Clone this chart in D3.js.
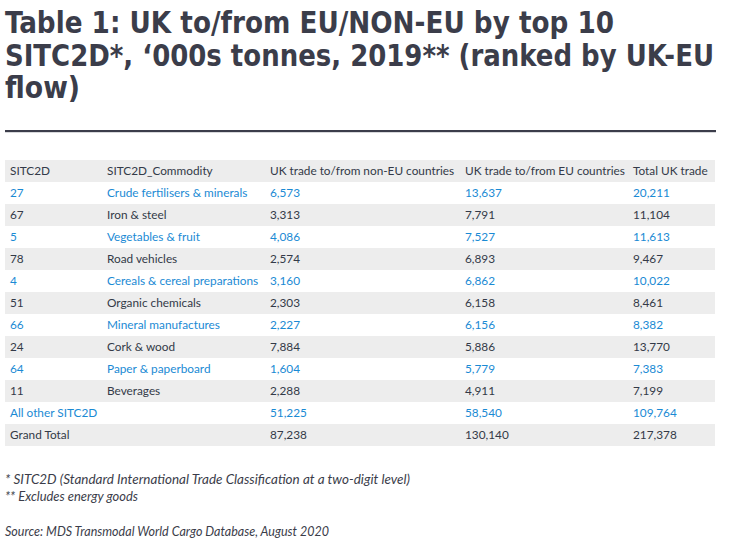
<!DOCTYPE html>
<html>
<head>
<meta charset="utf-8">
<script src="https://cdn.jsdelivr.net/npm/d3@7"></script>
<style>
  body { margin: 0; background: #fff; }
  .cell { font-family: Lato, sans-serif; font-size: 11.8px; }
  .title { font-family: "DejaVu Sans Condensed", sans-serif; font-weight: bold; font-size: 29.5px; fill: #3b3d4a; }
  .note { font-family: Lato, sans-serif; font-style: italic; font-size: 13px; fill: #3b3d4a; }
</style>
</head>
<body>
<div id="chart"></div>
<script>
var width = 729, height = 545;

var titleLines = ["Table 1: UK to/from EU/NON-EU by top 10",
  "SITC2D*, \u2018000s tonnes, 2019** (ranked by UK-EU",
  "flow)"];
var titleWidths = [609, 709, 75];

var headers = ["SITC2D", "SITC2D_Commodity", "UK trade to/from non-EU countries",
  "UK trade to/from EU countries", "Total UK trade"];

var codes = ["27", "67", "5", "78", "4", "51", "66", "24", "64", "11", "All other SITC2D", "Grand Total"];
var commodities = ["Crude fertilisers & minerals", "Iron & steel", "Vegetables & fruit",
  "Road vehicles", "Cereals & cereal preparations", "Organic chemicals",
  "Mineral manufactures", "Cork & wood", "Paper & paperboard", "Beverages", "", ""];
var nonEu = [6573, 3313, 4086, 2574, 3160, 2303, 2227, 7884, 1604, 2288, 51225, 87238];
var eu = [13637, 7791, 7527, 6893, 6862, 6158, 6156, 5886, 5779, 4911, 58540, 130140];
var total = [20211, 11104, 11613, 9467, 10022, 8461, 8382, 13770, 7383, 7199, 109764, 217378];

var notes = ["* SITC2D (Standard International Trade Classification at a two-digit level)",
  "** Excludes energy goods",
  "Source: MDS Transmodal World Cargo Database, August 2020"];
var noteWidths = [405, 133, 324];

var blue = "#1a8ad4", dark = "#333a48", stripe = "#ededed";
var fmt = d3.format(",");

var svg = d3.select("#chart").append("svg")
  .attr("width", width).attr("height", height);

// title
var titleY = d3.scalePoint().domain(d3.range(titleLines.length)).range([33, 98]);
svg.selectAll("text.title").data(titleLines).enter().append("text")
  .attr("class", "title")
  .attr("x", 5)
  .attr("y", function(d, i) { return titleY(i); })
  .attr("textLength", function(d, i) { return titleWidths[i]; })
  .attr("lengthAdjust", "spacingAndGlyphs")
  .text(function(d) { return d; });

svg.append("rect")
  .attr("x", 5).attr("y", 130).attr("width", 711).attr("height", 2.2)
  .attr("fill", "#3b3d4a");

// table rows: header + data rows
var rowIds = ["header"].concat(codes);
var y = d3.scaleBand().domain(rowIds).range([160, 160 + 22 * rowIds.length]);
var x = d3.scaleOrdinal().domain(headers).range([10, 107, 270, 465, 633]);

var rows = codes.map(function(c, i) {
  return [c, commodities[i], fmt(nonEu[i]), fmt(eu[i]), fmt(total[i])];
});

var g = svg.append("g");

g.selectAll("rect.row").data(rowIds).enter().append("rect")
  .attr("class", "row")
  .attr("x", 5).attr("width", 710)
  .attr("y", function(d) { return y(d); })
  .attr("height", y.bandwidth())
  .attr("fill", function(d, i) { return i % 2 === 0 ? stripe : "#fff"; });

var header = g.append("g");
header.selectAll("text").data(headers).enter().append("text")
  .attr("class", "cell")
  .attr("x", function(d) { return x(d); })
  .attr("y", y("header") + y.bandwidth() / 2)
  .attr("dy", "0.35em")
  .attr("fill", dark)
  .text(function(d) { return d; });

var rowG = g.selectAll("g.datarow").data(rows).enter().append("g")
  .attr("class", "datarow")
  .attr("transform", function(d, i) { return "translate(0," + (y(codes[i]) + y.bandwidth() / 2) + ")"; });

rowG.selectAll("text").data(function(d, i) {
    return d.map(function(v, j) { return {v: v, col: headers[j], row: i}; });
  }).enter().append("text")
  .attr("class", "cell")
  .attr("x", function(d) { return x(d.col); })
  .attr("dy", "0.35em")
  .attr("fill", function(d) { return d.row % 2 === 0 ? blue : dark; })
  .text(function(d) { return d.v; });

// footnotes and source
var noteY = [484, 501, 536];
svg.selectAll("text.note").data(notes).enter().append("text")
  .attr("class", "note")
  .attr("x", 5)
  .attr("y", function(d, i) { return noteY[i]; })
  .attr("textLength", function(d, i) { return noteWidths[i]; })
  .attr("lengthAdjust", "spacingAndGlyphs")
  .text(function(d) { return d; });
</script>
</body>
</html>
